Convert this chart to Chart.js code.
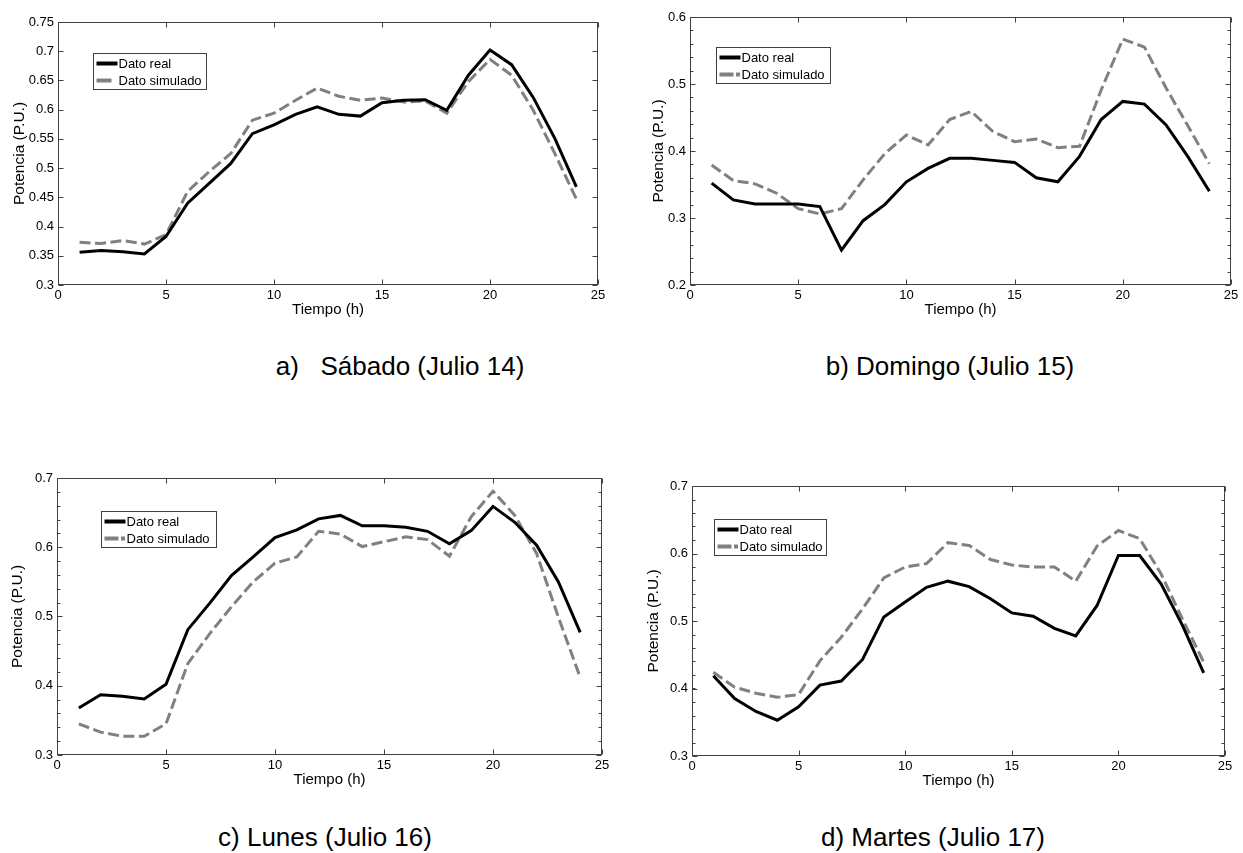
<!DOCTYPE html>
<html lang="es">
<head>
<meta charset="utf-8">
<title>Potencia: dato real vs dato simulado</title>
<script src="https://cdn.jsdelivr.net/npm/chart.js@4.4.1/dist/chart.umd.min.js"></script>
<style>
  html, body { margin: 0; padding: 0; background: #fff; }
  body {
    width: 1243px; height: 853px; position: relative; overflow: hidden;
    font-family: "Liberation Sans", Arial, sans-serif;
  }
  canvas { position: absolute; }
  .caption {
    position: absolute; font-size: 26px; color: #000; line-height: 1;
    white-space: pre; transform: translate(-50%, -50%);
  }
</style>
</head>
<body>
<canvas id="chartA"></canvas>
<canvas id="chartB"></canvas>
<canvas id="chartC"></canvas>
<canvas id="chartD"></canvas>

<script>
// Datos horarios (P.U.)
const HORAS = [1, 2, 3, 4, 5, 6, 7, 8, 9, 10, 11, 12, 13, 14, 15, 16, 17, 18, 19, 20, 21, 22, 23, 24];

const SAB_REAL = [0.356, 0.359, 0.357, 0.353, 0.383, 0.440, 0.474, 0.508, 0.559, 0.574, 0.592, 0.605,
                  0.592, 0.589, 0.612, 0.616, 0.617, 0.599, 0.659, 0.702, 0.677, 0.621, 0.551, 0.468];
const SAB_SIM  = [0.373, 0.371, 0.376, 0.370, 0.386, 0.460, 0.494, 0.525, 0.582, 0.594, 0.616, 0.637,
                  0.623, 0.616, 0.620, 0.613, 0.615, 0.594, 0.648, 0.686, 0.659, 0.599, 0.525, 0.447];

const DOM_REAL = [0.352, 0.327, 0.321, 0.321, 0.321, 0.317, 0.252, 0.296, 0.320, 0.354, 0.374, 0.389,
                  0.389, 0.386, 0.383, 0.360, 0.354, 0.392, 0.447, 0.474, 0.470, 0.439, 0.392, 0.340];
const DOM_SIM  = [0.379, 0.356, 0.351, 0.337, 0.314, 0.306, 0.314, 0.357, 0.396, 0.424, 0.409, 0.447,
                  0.459, 0.429, 0.414, 0.418, 0.405, 0.407, 0.491, 0.567, 0.555, 0.494, 0.438, 0.381];

const LUN_REAL = [0.368, 0.387, 0.385, 0.381, 0.402, 0.481, 0.519, 0.559, 0.586, 0.614, 0.625, 0.641,
                  0.646, 0.631, 0.631, 0.629, 0.623, 0.605, 0.624, 0.659, 0.636, 0.603, 0.550, 0.477];
const LUN_SIM  = [0.345, 0.333, 0.327, 0.327, 0.345, 0.432, 0.475, 0.514, 0.550, 0.577, 0.586, 0.623,
                  0.619, 0.601, 0.608, 0.615, 0.611, 0.587, 0.644, 0.681, 0.646, 0.591, 0.499, 0.412];

const MAR_REAL = [0.419, 0.385, 0.366, 0.353, 0.373, 0.405, 0.411, 0.443, 0.506, 0.528, 0.550, 0.559,
                  0.551, 0.533, 0.512, 0.507, 0.489, 0.478, 0.523, 0.597, 0.597, 0.555, 0.494, 0.423];
const MAR_SIM  = [0.424, 0.402, 0.393, 0.387, 0.391, 0.441, 0.476, 0.518, 0.564, 0.580, 0.585, 0.616,
                  0.612, 0.591, 0.583, 0.580, 0.580, 0.559, 0.611, 0.634, 0.622, 0.570, 0.503, 0.439];

// Ejes: [min, max, paso]
const EJE_X = [0, 25, 5];
const SAB_EJE_Y = [0.3, 0.75, 0.05];
const DOM_EJE_Y = [0.2, 0.6, 0.1];
const LUN_EJE_Y = [0.3, 0.7, 0.1];
const MAR_EJE_Y = [0.3, 0.7, 0.1];

const LEYENDA = ["Dato real", "Dato simulado"];
const TITULOS = ["a)   Sábado (Julio 14)", "b) Domingo (Julio 15)", "c) Lunes (Julio 16)", "d) Martes (Julio 17)"];

const FUENTE = '"Liberation Sans", Arial, sans-serif';
const COLOR_EJE = "#404040";

// Posición de cada panel en la página (área del gráfico en px)
const PANELES = [
  { id: "chartA", real: SAB_REAL, sim: SAB_SIM, ejeY: SAB_EJE_Y, titulo: TITULOS[0],
    area: { left: 58, right: 598, top: 22, bottom: 285 }, tituloX: 19, menor: 0,
    leyenda: { dx: 35, dy: 31, w: 113, h: 36, guion: [15, 40] }, pie: { x: 400, y: 366 } },
  { id: "chartB", real: DOM_REAL, sim: DOM_SIM, ejeY: DOM_EJE_Y, titulo: TITULOS[1],
    area: { left: 690, right: 1231, top: 17, bottom: 285 }, tituloX: 658, menor: 0.02,
    leyenda: { dx: 26, dy: 30, w: 114, h: 36, guion: [14, 2.5, 4, 20] }, pie: { x: 950, y: 366 } },
  { id: "chartC", real: LUN_REAL, sim: LUN_SIM, ejeY: LUN_EJE_Y, titulo: TITULOS[2],
    area: { left: 57, right: 602, top: 478, bottom: 755 }, tituloX: 17, menor: 0.02,
    leyenda: { dx: 44, dy: 33, w: 115, h: 36, guion: [14, 2.5, 4, 20] }, pie: { x: 325, y: 837 } },
  { id: "chartD", real: MAR_REAL, sim: MAR_SIM, ejeY: MAR_EJE_Y, titulo: TITULOS[3],
    area: { left: 692, right: 1225, top: 486, bottom: 756 }, tituloX: 653, menor: 0.02,
    leyenda: { dx: 22, dy: 33, w: 112, h: 36, guion: [14, 2.5, 4, 20] }, pie: { x: 933, y: 837 } },
];

// Caja y marcas hacia dentro, estilo MATLAB
const ejesMatlab = {
  id: "ejesMatlab",
  afterDraw(chart, args, opts) {
    const { ctx, chartArea: a, scales: { x, y } } = chart;
    const L = Math.round(a.left) + 0.5, R = Math.round(a.right) - 0.5;
    const T = Math.round(a.top) + 0.5, B = Math.round(a.bottom) - 0.5;
    ctx.save();
    ctx.strokeStyle = COLOR_EJE;
    ctx.lineWidth = 1;
    ctx.strokeRect(L, T, R - L, B - T);
    ctx.beginPath();
    x.ticks.forEach((t) => {
      const px = Math.round(x.getPixelForValue(t.value)) + 0.5;
      ctx.moveTo(px, B); ctx.lineTo(px, B - 5);
      ctx.moveTo(px, T); ctx.lineTo(px, T + 5);
    });
    y.ticks.forEach((t) => {
      const py = Math.round(y.getPixelForValue(t.value)) + 0.5;
      ctx.moveTo(L, py); ctx.lineTo(L + 5, py);
      ctx.moveTo(R, py); ctx.lineTo(R - 5, py);
    });
    if (opts.menor) {
      const n = Math.round((y.max - y.min) / opts.menor);
      for (let i = 1; i < n; i++) {
        const py = Math.round(y.getPixelForValue(y.min + i * opts.menor)) + 0.5;
        ctx.moveTo(L, py); ctx.lineTo(L + 3, py);
        ctx.moveTo(R, py); ctx.lineTo(R - 3, py);
      }
    }
    ctx.stroke();
    ctx.restore();
  },
};

// Leyenda en caja dentro del área del gráfico
const leyendaCaja = {
  id: "leyendaCaja",
  afterDraw(chart, args, opts) {
    const { ctx, chartArea: a } = chart;
    const bx = Math.round(a.left + opts.dx) + 0.5;
    const by = Math.round(a.top + opts.dy) + 0.5;
    ctx.save();
    ctx.fillStyle = "#fff";
    ctx.fillRect(bx, by, opts.w, opts.h);
    ctx.strokeStyle = COLOR_EJE;
    ctx.lineWidth = 1;
    ctx.strokeRect(bx, by, opts.w, opts.h);
    chart.data.datasets.forEach((ds, i) => {
      const yy = by + 10 + i * 17;
      ctx.beginPath();
      ctx.setLineDash(i === 1 ? opts.guion : []);
      ctx.strokeStyle = ds.borderColor;
      ctx.lineWidth = 4;
      ctx.moveTo(bx + 3, yy);
      ctx.lineTo(bx + 24, yy);
      ctx.stroke();
      ctx.setLineDash([]);
      ctx.fillStyle = "#000";
      ctx.font = "13px " + FUENTE;
      ctx.textBaseline = "middle";
      ctx.fillText(ds.label, bx + 25, yy + 0.5);
    });
    ctx.restore();
  },
};

function crearGrafico(p) {
  const cvs = document.getElementById(p.id);
  const x0 = p.tituloX - 13;
  const y0 = p.area.top - 12;
  const x1 = Math.min(p.area.right + 12, 1243);
  const y1 = p.area.bottom + 38;
  cvs.style.left = x0 + "px";
  cvs.style.top = y0 + "px";
  cvs.width = x1 - x0;
  cvs.height = y1 - y0;

  const puntos = (serie) => HORAS.map((h, i) => ({ x: h, y: serie[i] }));
  const fuenteTicks = { family: FUENTE, size: 13 };

  return new Chart(cvs, {
    type: "line",
    data: {
      datasets: [
        {
          label: LEYENDA[0],
          data: puntos(p.real),
          borderColor: "#000000",
          borderWidth: 3,
          pointRadius: 0,
          tension: 0,
        },
        {
          label: LEYENDA[1],
          data: puntos(p.sim),
          borderColor: "#808080",
          borderWidth: 3,
          borderDash: [11, 4.5],
          pointRadius: 0,
          tension: 0,
        },
      ],
    },
    options: {
      responsive: false,
      animation: false,
      layout: { padding: { top: 12, right: x1 - p.area.right, left: 0, bottom: 0 } },
      plugins: {
        legend: { display: false },
        tooltip: { enabled: false },
        ejesMatlab: { menor: p.menor },
        leyendaCaja: p.leyenda,
      },
      scales: {
        x: {
          type: "linear",
          min: EJE_X[0],
          max: EJE_X[1],
          ticks: { stepSize: EJE_X[2], font: fuenteTicks, color: "#000", padding: 3, maxRotation: 0 },
          grid: { display: false, drawTicks: false },
          border: { display: false },
          title: {
            display: true, text: "Tiempo (h)", color: "#000",
            font: { family: FUENTE, size: 15 }, padding: { top: 0, bottom: 4 },
          },
          afterFit: (s) => { s.height = 38; s.paddingLeft = 0; s.paddingRight = 0; },
        },
        y: {
          type: "linear",
          min: p.ejeY[0],
          max: p.ejeY[1],
          ticks: {
            stepSize: p.ejeY[2], font: fuenteTicks, color: "#000", padding: 4,
            callback: (v) => String(Math.round(v * 100) / 100),
          },
          grid: { display: false, drawTicks: false },
          border: { display: false },
          title: {
            display: true, text: "Potencia (P.U.)", color: "#000",
            font: { family: FUENTE, size: 15.5 }, padding: { top: 4, bottom: 0 },
          },
          afterFit: (s) => { s.width = p.area.left - x0; s.paddingTop = 0; s.paddingBottom = 0; },
        },
      },
    },
    plugins: [ejesMatlab, leyendaCaja],
  });
}

PANELES.forEach((p) => {
  crearGrafico(p);
  const pie = document.createElement("div");
  pie.className = "caption";
  pie.textContent = p.titulo;
  pie.style.left = p.pie.x + "px";
  pie.style.top = p.pie.y + "px";
  document.body.appendChild(pie);
});
</script>
</body>
</html>
